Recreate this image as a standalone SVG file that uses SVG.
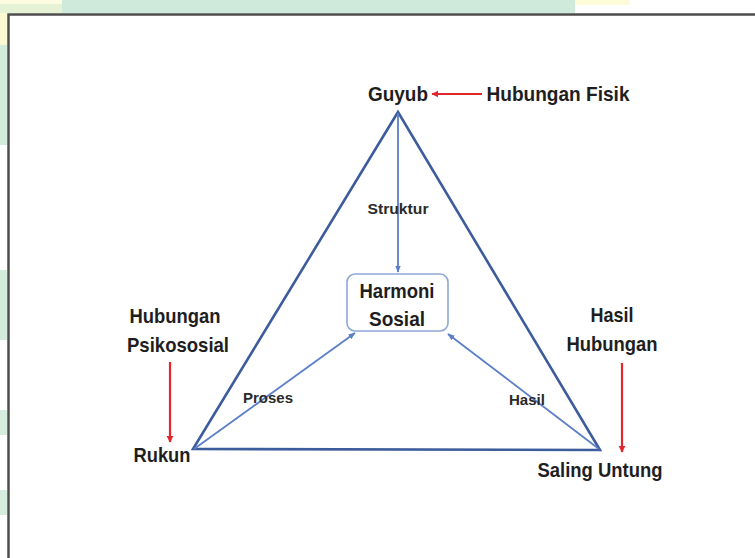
<svg xmlns="http://www.w3.org/2000/svg" width="755" height="558" viewBox="0 0 755 558">
<defs>
<style>
.lbl{font-family:"Liberation Sans",Arial,sans-serif;font-weight:bold;font-size:21px;fill:#1e1e1e;text-anchor:middle}
.sm{font-family:"Liberation Sans",Arial,sans-serif;font-weight:bold;font-size:15.5px;fill:#2a2a2a;text-anchor:middle}
.tri{fill:none;stroke:#3d5c9c;stroke-width:2.6;stroke-linejoin:miter}
.inner{stroke:#5b7fc6;stroke-width:1.8;fill:none}
.red{stroke:#e3262b;stroke-width:2.2;fill:none}
</style>
<marker id="ab" viewBox="0 0 10 10" refX="9" refY="5" markerWidth="4" markerHeight="4" orient="auto" markerUnits="strokeWidth">
<path d="M0,1 L10,5 L0,9 z" fill="#5b7fc6"/>
</marker>
<marker id="ar" viewBox="0 0 10 10" refX="9" refY="5" markerWidth="3.2" markerHeight="3.2" orient="auto" markerUnits="strokeWidth">
<path d="M0,0 L10,5 L0,10 z" fill="#e3262b"/>
</marker>
</defs>
<rect x="0" y="0" width="755" height="558" fill="#ffffff"/>
<rect x="0" y="0" width="755" height="13" fill="#ffffff"/>
<rect x="62" y="0" width="513" height="13" fill="#cfe9da"/>
<rect x="575" y="0" width="55" height="5" fill="#fdfbd8"/>
<rect x="0" y="0" width="62" height="4" fill="#fdfbe2"/>
<rect x="0" y="4" width="62" height="9" fill="#e6f2d6"/>
<rect x="0" y="13" width="7" height="32" fill="#fcf8d4"/>
<rect x="0" y="45" width="7" height="100" fill="#d2ebdc"/>
<rect x="0" y="270" width="7" height="70" fill="#d2ebdc"/>
<rect x="0" y="410" width="7" height="25" fill="#d6ecdf"/>
<rect x="0" y="490" width="7" height="25" fill="#d6ecdf"/>
<rect x="8.5" y="14.5" width="760" height="560" fill="#ffffff" stroke="#4d4d4d" stroke-width="2.5"/>

<g id="connectors">
<polygon class="tri" points="398,112 193,449 600,450"/>
<line class="inner" x1="398" y1="113" x2="398" y2="272" marker-end="url(#ab)"/>
<line class="inner" x1="194" y1="449" x2="355" y2="333" marker-end="url(#ab)"/>
<line class="inner" x1="599" y1="449" x2="448" y2="334" marker-end="url(#ab)"/>
<line class="red" x1="482" y1="94" x2="432" y2="94" marker-end="url(#ar)"/>
<line class="red" x1="170" y1="362" x2="170" y2="442" marker-end="url(#ar)"/>
<line class="red" x1="622" y1="363" x2="622" y2="452" marker-end="url(#ar)"/>
<text class="sm" x="398" y="214" textLength="61" lengthAdjust="spacingAndGlyphs">Struktur</text>
<text class="sm" x="268" y="403" textLength="50" lengthAdjust="spacingAndGlyphs">Proses</text>
<text class="sm" x="527" y="405" textLength="36" lengthAdjust="spacingAndGlyphs">Hasil</text>
</g>

<g id="guyub">
<text class="lbl" x="398" y="101" textLength="60" lengthAdjust="spacingAndGlyphs">Guyub</text>
</g>
<g id="hubungan-fisik">
<text class="lbl" x="558" y="101" textLength="143" lengthAdjust="spacingAndGlyphs">Hubungan Fisik</text>
</g>
<g id="harmoni-sosial">
<rect x="347" y="274" width="101" height="57" rx="8" ry="8" fill="#ffffff" stroke="#8ea7d6" stroke-width="1.6"/>
<text class="lbl" x="397" y="298" textLength="75" lengthAdjust="spacingAndGlyphs">Harmoni</text>
<text class="lbl" x="397" y="326" textLength="56" lengthAdjust="spacingAndGlyphs">Sosial</text>
</g>
<g id="hubungan-psikososial">
<text class="lbl" x="175" y="323" textLength="91" lengthAdjust="spacingAndGlyphs">Hubungan</text>
<text class="lbl" x="178" y="352" textLength="102" lengthAdjust="spacingAndGlyphs">Psikososial</text>
</g>
<g id="rukun">
<text class="lbl" x="162" y="462" textLength="57" lengthAdjust="spacingAndGlyphs">Rukun</text>
</g>
<g id="hasil-hubungan">
<text class="lbl" x="612" y="322" textLength="43" lengthAdjust="spacingAndGlyphs">Hasil</text>
<text class="lbl" x="612" y="351" textLength="91" lengthAdjust="spacingAndGlyphs">Hubungan</text>
</g>
<g id="saling-untung">
<text class="lbl" x="600" y="477" textLength="125" lengthAdjust="spacingAndGlyphs">Saling Untung</text>
</g>
</svg>
